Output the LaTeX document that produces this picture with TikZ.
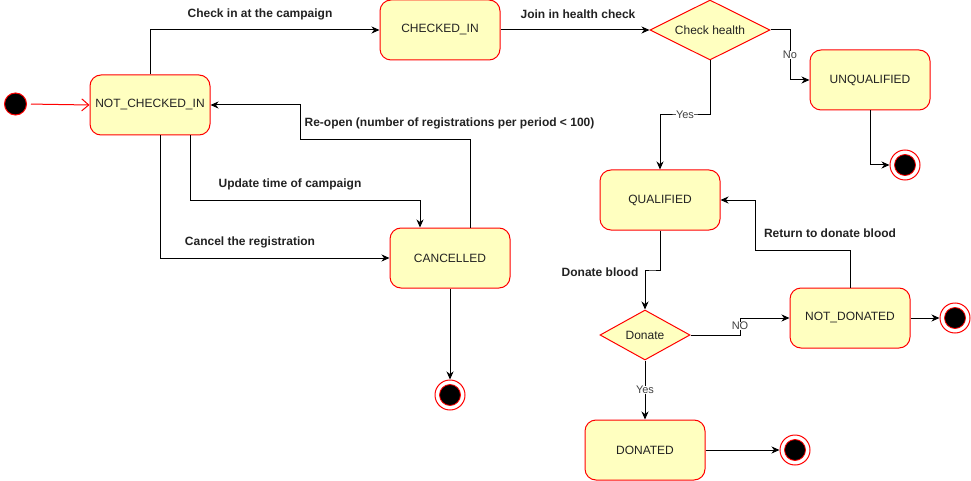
\documentclass[tikz,border=0pt]{standalone}
\usepackage{fontspec}
\setmainfont{Liberation Sans}
\usetikzlibrary{shapes.geometric,arrows.meta,calc}
\definecolor{stfill}{HTML}{FFFFC0}
\definecolor{stline}{HTML}{FF0000}
\definecolor{txt}{HTML}{222222}
\begin{document}
\begin{tikzpicture}[x=1pt,y=-1pt,
  state/.style={draw=stline,fill=stfill,line width=1pt,rounded corners=11pt,minimum width=120pt,minimum height=60pt,inner sep=0pt,font=\fontsize{12}{14}\selectfont,text=txt},
  choice/.style={draw=stline,fill=stfill,line width=1pt,shape=diamond,inner sep=0pt,font=\fontsize{12}{14}\selectfont,text=txt},
  conn/.style={draw=black,line width=1pt,-{Stealth[length=8pt,width=7pt,inset=2.5pt]}},
  elabel/.style={font=\bfseries\fontsize{12}{14}\selectfont,text=txt,inner sep=1pt},
  ylabel/.style={font=\fontsize{11}{13}\selectfont,text=black!75,fill=white,inner sep=0.5pt},
  initst/.style={circle,draw=stline,fill=black,line width=1pt,minimum size=22pt,inner sep=0pt},
  endouter/.style={circle,draw=stline,fill=white,line width=1pt,minimum size=30pt,inner sep=0pt},
  endinner/.style={circle,draw=stline,fill=black,line width=0.8pt,minimum size=21pt,inner sep=0pt}]
\useasboundingbox (0,0) rectangle (971,481);
% states
\node[initst] (init) at (15.5,104) {};
\node[state] (nci) at (150,105) {NOT\_CHECKED\_IN};
\node[state] (ci) at (440,30) {CHECKED\_IN};
\node[state] (can) at (450,258) {CANCELLED};
\node[choice,minimum width=120pt,minimum height=60pt,aspect=2] (ch) at (710,30) {Check health};
\node[state] (unq) at (870,80) {UNQUALIFIED};
\node[state] (q) at (660,200) {QUALIFIED};
\node[choice,minimum width=90pt,minimum height=50pt,aspect=1.8] (dd) at (645,335) {Donate};
\node[state] (nd) at (850,318) {NOT\_DONATED};
\node[state] (don) at (645,450) {DONATED};
% end states
\node[endouter] (e1) at (450,395) {};
\node[endinner] (e1i) at (e1) {};
\node[endouter] (e2) at (905,165) {};
\node[endinner] (e2i) at (e2) {};
\node[endouter] (e3) at (955,318) {};
\node[endinner] (e3i) at (e3) {};
\node[endouter] (e4) at (795,450) {};
\node[endinner] (e4i) at (e4) {};
% helper coordinates
\coordinate (u1) at (190,200);
\coordinate (r1) at (300,140);
\coordinate (y1) at (685,115);
\coordinate (n1) at (790,55);
\coordinate (d1) at (652,270);
\coordinate (n2) at (740,326);
\coordinate (r2) at (755,250);
% connectors
\draw[draw=stline,line width=1pt,shorten <=4pt,-{Straight Barb[length=7pt,width=12pt]}] (init.east) -- (nci.west);
\draw[conn] (nci.north) |- (ci.west);
\draw[conn] (ci.east) -- (ch.west);
\draw[conn] ([xshift=40pt]nci.south) -- (u1) -| ([xshift=-30pt]can.north);
\draw[conn] ([xshift=10pt]nci.south) |- (can.west);
\draw[conn] ([xshift=20pt]can.north) |- (r1) |- (nci.east);
\draw[conn] (can.south) -- (e1);
\draw[conn] (ch.south) |- (y1) -| (q.north);
\draw[conn] (ch.east) -| (n1) |- (unq.west);
\draw[conn] (unq.south) |- (e2);
\draw[conn] (q.south) |- (d1) -| (dd.north);
\draw[conn] (dd.east) -| (n2) |- (nd.west);
\draw[conn] (nd.north) |- (r2) |- (q.east);
\draw[conn] (nd.east) -- (e3);
\draw[conn] (dd.south) -- (don.north);
\draw[conn] (don.east) -- (e4);
% labels
\node[elabel] (l1) at (260,14) {Check in at the campaign};
\node[elabel] (l2) at (578,14) {Join in health check};
\node[elabel] (l3) at (290,184) {Update time of campaign};
\node[elabel] (l4) at (250,242) {Cancel the registration};
\node[elabel] (l5) at (449.5,123) {Re-open (number of registrations per period < 100)};
\node[elabel] (l6) at (830,233) {Return to donate blood};
\node[elabel] (l7) at (600,272.5) {Donate blood};
\node[ylabel] (l8) at (y1) {Yes};
\node[ylabel] (l9) at (n1) {No};
\node[ylabel] (l10) at (n2) {NO};
\node[ylabel] (l11) at (645,390) {Yes};
\end{tikzpicture}
\end{document}
